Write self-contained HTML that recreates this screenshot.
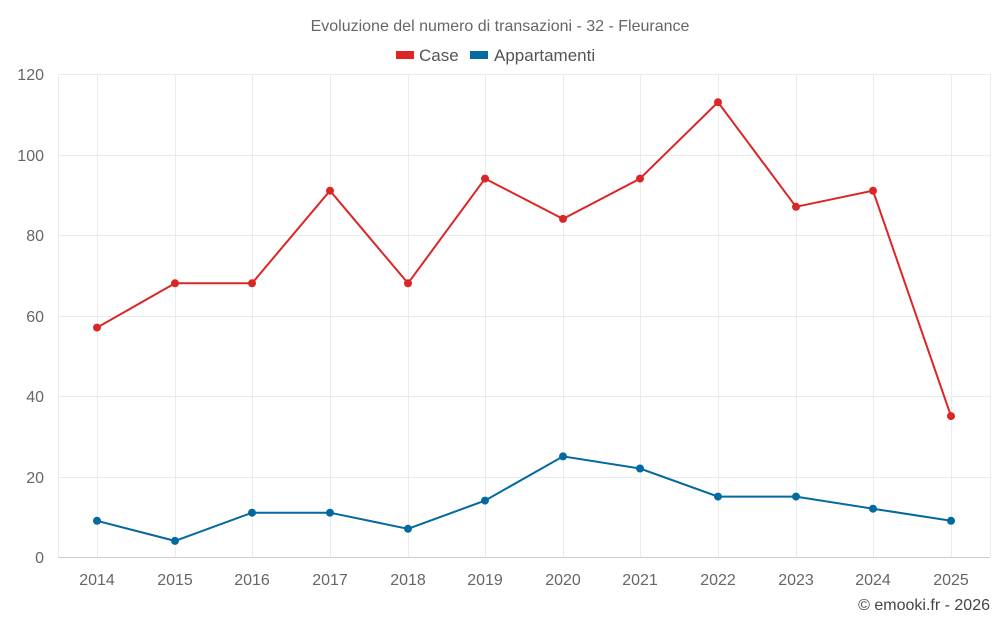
<!DOCTYPE html>
<html><head><meta charset="utf-8"><style>
html,body{margin:0;padding:0;background:#fff;}
svg{display:block;font-family:"Liberation Sans",Roboto,sans-serif;}
</style></head><body>
<svg width="1000" height="625" viewBox="0 0 1000 625" xmlns="http://www.w3.org/2000/svg">
<text x="500" y="31" text-anchor="middle" font-size="16" fill="#666">Evoluzione del numero di transazioni - 32 - Fleurance</text>
<rect x="396" y="51" width="18" height="8" fill="#dc2626"/>
<text x="419" y="61" font-size="17" fill="#555">Case</text>
<rect x="470" y="51" width="18" height="8" fill="#0369a1"/>
<text x="494" y="61" font-size="17" fill="#555">Appartamenti</text>
<g stroke="#ebebeb" stroke-width="1">
<line x1="58" y1="74.5" x2="990" y2="74.5"/>
<line x1="58" y1="155.5" x2="990" y2="155.5"/>
<line x1="58" y1="235.5" x2="990" y2="235.5"/>
<line x1="58" y1="316.5" x2="990" y2="316.5"/>
<line x1="58" y1="396.5" x2="990" y2="396.5"/>
<line x1="58" y1="477.5" x2="990" y2="477.5"/>
<line x1="58.5" y1="74" x2="58.5" y2="557"/>
<line x1="97.5" y1="74" x2="97.5" y2="557"/>
<line x1="175.5" y1="74" x2="175.5" y2="557"/>
<line x1="252.5" y1="74" x2="252.5" y2="557"/>
<line x1="330.5" y1="74" x2="330.5" y2="557"/>
<line x1="408.5" y1="74" x2="408.5" y2="557"/>
<line x1="485.5" y1="74" x2="485.5" y2="557"/>
<line x1="563.5" y1="74" x2="563.5" y2="557"/>
<line x1="640.5" y1="74" x2="640.5" y2="557"/>
<line x1="718.5" y1="74" x2="718.5" y2="557"/>
<line x1="796.5" y1="74" x2="796.5" y2="557"/>
<line x1="873.5" y1="74" x2="873.5" y2="557"/>
<line x1="951.5" y1="74" x2="951.5" y2="557"/>
<line x1="990.5" y1="74" x2="990.5" y2="557"/>
</g>
<line x1="58" y1="557.5" x2="990" y2="557.5" stroke="#ccc"/>
<g font-size="16" fill="#666" text-anchor="end">
<text x="44" y="80">120</text><text x="44" y="161">100</text><text x="44" y="241">80</text>
<text x="44" y="322">60</text><text x="44" y="402">40</text><text x="44" y="483">20</text><text x="44" y="563">0</text>
</g>
<g font-size="16" fill="#666" text-anchor="middle">
<text x="97" y="585">2014</text><text x="175" y="585">2015</text><text x="252" y="585">2016</text>
<text x="330" y="585">2017</text><text x="408" y="585">2018</text><text x="485" y="585">2019</text>
<text x="563" y="585">2020</text><text x="640" y="585">2021</text><text x="718" y="585">2022</text>
<text x="796" y="585">2023</text><text x="873" y="585">2024</text><text x="951" y="585">2025</text>
</g>
<polyline fill="none" stroke="#dc2626" stroke-width="2" points="97,327.6 175,283.3 252,283.3 330,190.7 408,283.3 485,178.6 563,218.9 640,178.6 718,102.2 796,206.8 873,190.7 951,416.1"/>
<g fill="#dc2626">
<circle cx="97" cy="327.6" r="4"/><circle cx="175" cy="283.3" r="4"/><circle cx="252" cy="283.3" r="4"/><circle cx="330" cy="190.7" r="4"/><circle cx="408" cy="283.3" r="4"/><circle cx="485" cy="178.6" r="4"/><circle cx="563" cy="218.9" r="4"/><circle cx="640" cy="178.6" r="4"/><circle cx="718" cy="102.2" r="4"/><circle cx="796" cy="206.8" r="4"/><circle cx="873" cy="190.7" r="4"/><circle cx="951" cy="416.1" r="4"/>
</g>
<polyline fill="none" stroke="#0369a1" stroke-width="2" points="97,520.8 175,540.9 252,512.7 330,512.7 408,528.8 485,500.6 563,456.4 640,468.5 718,496.6 796,496.6 873,508.7 951,520.8"/>
<g fill="#0369a1">
<circle cx="97" cy="520.8" r="4"/><circle cx="175" cy="540.9" r="4"/><circle cx="252" cy="512.7" r="4"/><circle cx="330" cy="512.7" r="4"/><circle cx="408" cy="528.8" r="4"/><circle cx="485" cy="500.6" r="4"/><circle cx="563" cy="456.4" r="4"/><circle cx="640" cy="468.5" r="4"/><circle cx="718" cy="496.6" r="4"/><circle cx="796" cy="496.6" r="4"/><circle cx="873" cy="508.7" r="4"/><circle cx="951" cy="520.8" r="4"/>
</g>
<text x="990" y="610" text-anchor="end" font-size="16" fill="#444">© emooki.fr - 2026</text>
</svg>
</body></html>
